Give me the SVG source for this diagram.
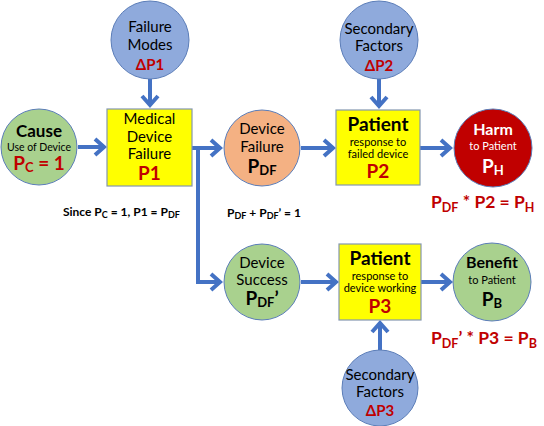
<svg xmlns="http://www.w3.org/2000/svg" width="544" height="426" viewBox="0 0 544 426">
<defs>
<marker id="ah" markerUnits="userSpaceOnUse" markerWidth="24" markerHeight="24" viewBox="-14 -12 20 24" refX="0" refY="0" orient="auto">
<path d="M-9,-8 L0,0 L-9,8" fill="none" stroke="#4472C4" stroke-width="4" stroke-linejoin="miter"/>
</marker>
<style>
text{font-family:Lato,"Liberation Sans",sans-serif;text-anchor:middle;fill:#000}
.blue{fill:#8FAADC;stroke:#5B7DB8;stroke-width:1}
.green{fill:#A9D18E;stroke:#5B7DB8;stroke-width:1}
.orange{fill:#F4B183;stroke:#5B7DB8;stroke-width:1}
.harm{fill:#C00000;stroke:#5B7DB8;stroke-width:1}
.box{fill:#FFFF00;stroke:#8497B0;stroke-width:1.2}
.t{font-size:15px}
.b{font-weight:bold}
.red{fill:#C00000}
.w{fill:#fff}
.sm{font-size:11px}
.xs{font-size:10.5px}
.big{font-size:19px;font-weight:bold}
.conn{fill:none;stroke:#4472C4;stroke-width:4;marker-end:url(#ah)}
.eq{font-size:17.5px;font-weight:bold;fill:#C00000;text-anchor:start}
.note{font-size:12px;text-anchor:start;font-weight:bold}
</style>
</defs>
<g id="connectors">
<line class="conn" x1="150" y1="79" x2="150" y2="105"/>
<line class="conn" x1="78" y1="147" x2="104" y2="147"/>
<line class="conn" x1="192" y1="148" x2="220" y2="148"/>
<polyline class="conn" points="196,148 198,148 198,282 220,282"/>
<line class="conn" x1="301" y1="148" x2="333" y2="148"/>
<line class="conn" x1="379" y1="79" x2="379" y2="106"/>
<line class="conn" x1="420" y1="148" x2="450" y2="148"/>
<line class="conn" x1="301" y1="282" x2="336" y2="282"/>
<line class="conn" x1="421" y1="282" x2="450" y2="282"/>
<line class="conn" x1="380" y1="350" x2="380" y2="323"/>
</g>
<g id="failure-modes">
<circle class="blue" cx="150" cy="40" r="39"/>
<text class="t" x="150" y="32">Failure</text>
<text class="t" x="150" y="50">Modes</text>
<text class="t b red" x="150" y="70">ΔP1</text>
</g>
<g id="cause">
<circle class="green" cx="39" cy="147" r="38"/>
<text class="b" x="39" y="137" font-size="17">Cause</text>
<text class="xs" x="39" y="151">Use of Device</text>
<text class="big red" x="39" y="170">P<tspan font-size="13" dy="2">C</tspan><tspan dy="-2"> = 1</tspan></text>
</g>
<g id="medical-device-failure">
<rect class="box" x="107" y="109" width="85" height="77"/>
<text class="t" x="149.5" y="124">Medical</text>
<text class="t" x="149.5" y="142">Device</text>
<text class="t" x="149.5" y="159">Failure</text>
<text class="big red" x="149.5" y="180" font-size="20">P1</text>
</g>
<g id="device-failure">
<circle class="orange" cx="262" cy="148" r="38"/>
<text class="t" x="262" y="134">Device</text>
<text class="t" x="262" y="152">Failure</text>
<text class="big" x="262" y="173">P<tspan font-size="13" dy="2">DF</tspan></text>
</g>
<g id="secondary-factors-2">
<circle class="blue" cx="379" cy="40" r="39"/>
<text class="t" x="379" y="34">Secondary</text>
<text class="t" x="379" y="51">Factors</text>
<text class="t b red" x="379" y="71">ΔP2</text>
</g>
<g id="patient-p2">
<rect class="box" x="336" y="110" width="84" height="75"/>
<text class="big" x="378" y="131">Patient</text>
<text class="sm" x="378" y="146">response to</text>
<text class="sm" x="378" y="158">failed device</text>
<text class="big red" x="378" y="178">P2</text>
</g>
<g id="harm">
<circle class="harm" cx="493" cy="148" r="39"/>
<text class="b w" x="493" y="135" font-size="16">Harm</text>
<text class="sm w" x="493" y="150">to Patient</text>
<text class="big w" x="493" y="173">P<tspan font-size="13" dy="2">H</tspan></text>
</g>
<g id="device-success">
<circle class="green" cx="262" cy="282" r="38"/>
<text class="t" x="262" y="268">Device</text>
<text class="t" x="262" y="285">Success</text>
<text class="big" x="262" y="305">P<tspan font-size="13" dy="2">DF</tspan><tspan dy="-2">’</tspan></text>
</g>
<g id="patient-p3">
<rect class="box" x="339" y="244" width="82" height="76"/>
<text class="big" x="380" y="265">Patient</text>
<text class="sm" x="380" y="280">response to</text>
<text class="sm" x="380" y="292">device working</text>
<text class="big red" x="380" y="313">P3</text>
</g>
<g id="benefit">
<circle class="green" cx="492" cy="282" r="39"/>
<text class="b" x="492" y="268" font-size="16">Benefit</text>
<text class="sm" x="492" y="284">to Patient</text>
<text class="big" x="492" y="306">P<tspan font-size="13" dy="2">B</tspan></text>
</g>
<g id="secondary-factors-3">
<circle class="blue" cx="380" cy="388" r="38"/>
<text class="t" x="380" y="380">Secondary</text>
<text class="t" x="380" y="397">Factors</text>
<text class="t b red" x="380" y="416">ΔP3</text>
</g>
<g id="equations">
<text class="eq" x="431" y="208">P<tspan font-size="12.5" dy="4">DF</tspan><tspan dy="-4"> * P2 = P</tspan><tspan font-size="12.5" dy="4">H</tspan></text>
<text class="eq" x="431" y="344">P<tspan font-size="12.5" dy="4">DF</tspan><tspan dy="-4">’ * P3 = P</tspan><tspan font-size="12.5" dy="4">B</tspan></text>
<text class="note" x="63" y="216">Since P<tspan font-size="9" dy="2">C</tspan><tspan dy="-2"> = 1, P1 = P</tspan><tspan font-size="9" dy="2">DF</tspan></text>
<text class="note" x="227" y="217">P<tspan font-size="9" dy="2">DF</tspan><tspan dy="-2"> + P</tspan><tspan font-size="9" dy="2">DF</tspan><tspan dy="-2">’ = 1</tspan></text>
</g>
</svg>
